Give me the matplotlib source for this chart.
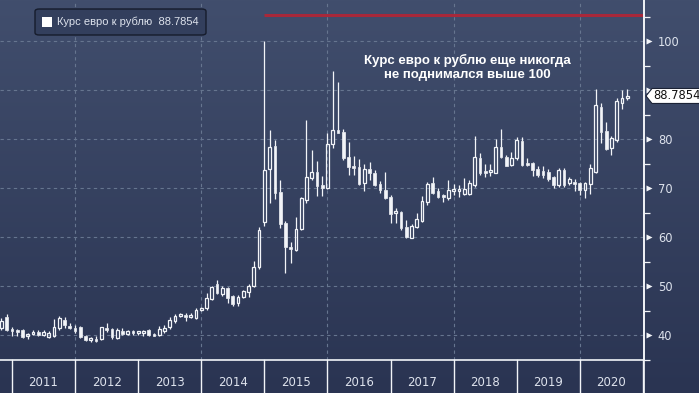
#!/usr/bin/env python3

import matplotlib
matplotlib.use('Agg')
import matplotlib.pyplot as plt
import matplotlib.transforms as mtransforms
from matplotlib.colors import LinearSegmentedColormap
from matplotlib.patches import Rectangle, FancyBboxPatch, Polygon
import numpy

# monthly EUR/RUB candles, Oct 2010 .. Sep 2020
FIRST_MONTH = 10
OPENS = [41.4, 43.6, 41.2, 41.0, 41.0, 39.8, 40.3, 40.7, 40.1, 39.5,
         39.7, 41.4, 43.1, 41.9, 41.5, 41.7, 39.9, 39.0, 39.2, 39.2,
         41.5, 41.2, 39.3, 40.8, 40.3, 40.8, 40.4, 40.4, 41.1, 40.0,
         40.0, 40.9, 41.7, 42.9, 43.9, 44.1, 43.7, 43.5, 45.2, 45.5,
         47.3, 50.4, 48.4, 49.5, 47.9, 46.5, 47.7, 48.7, 50.0, 53.9,
         63.0, 73.8, 78.5, 69.1, 62.8, 57.9, 57.3, 61.6, 67.5, 72.0,
         73.2, 70.6, 70.1, 78.9, 81.8, 81.4, 76.4, 74.5, 74.3, 71.0,
         73.8, 73.1, 70.9, 69.6, 68.1, 65.0, 65.2, 62.0, 59.9, 62.1,
         63.3, 67.2, 71.1, 69.3, 68.4, 67.9, 69.3, 69.3, 68.8, 68.8,
         70.6, 76.1, 73.5, 73.2, 73.1, 78.4, 76.4, 74.6, 76.2, 79.5,
         75.2, 75.2, 73.8, 73.5, 73.3, 72.2, 70.6, 73.7, 71.0, 71.3,
         71.1, 69.5, 70.9, 73.3, 86.6, 81.6, 78.1, 79.8, 87.3, 88.4]
HIGHS = [43.5, 44.3, 41.7, 41.3, 41.2, 40.5, 41.0, 41.0, 41.0, 40.8,
         43.2, 43.9, 43.7, 42.4, 42.0, 41.9, 40.1, 39.5, 39.7, 41.7,
         42.4, 41.5, 41.4, 41.4, 41.0, 41.1, 40.9, 41.1, 41.2, 40.4,
         41.9, 42.0, 43.7, 44.2, 44.5, 44.4, 44.4, 45.5, 45.7, 48.5,
         50.0, 51.2, 50.0, 49.9, 48.2, 48.2, 49.1, 50.4, 55.2, 62.1,
         100.0, 81.8, 79.9, 71.6, 63.3, 59.0, 64.1, 68.2, 83.8, 77.7,
         75.5, 72.5, 81.3, 93.9, 91.7, 82.0, 79.4, 76.5, 76.0, 75.0,
         75.3, 73.6, 71.4, 73.3, 68.6, 65.9, 65.4, 63.5, 62.6, 64.8,
         68.4, 71.3, 72.3, 70.0, 68.8, 71.6, 70.9, 70.6, 72.0, 71.6,
         80.6, 77.1, 75.0, 74.8, 80.1, 82.0, 76.7, 77.4, 80.5, 80.5,
         76.1, 75.4, 74.4, 74.4, 73.8, 72.5, 74.0, 74.0, 72.3, 71.9,
         71.3, 71.3, 74.8, 90.3, 87.4, 83.5, 80.6, 88.3, 90.0, 90.3]
LOWS = [41.0, 40.8, 39.9, 39.7, 39.3, 39.1, 40.0, 39.7, 39.8, 39.3,
        39.5, 41.0, 41.5, 41.2, 40.5, 39.3, 38.8, 38.6, 38.6, 39.0,
        40.7, 39.1, 39.1, 40.1, 40.0, 40.1, 40.1, 39.7, 39.9, 39.7,
        39.7, 40.4, 41.3, 42.4, 43.7, 42.9, 43.4, 43.2, 45.0, 45.2,
        47.1, 48.4, 48.0, 46.5, 45.9, 45.9, 47.5, 47.7, 49.7, 53.5,
        62.3, 67.0, 67.7, 61.8, 52.7, 54.6, 57.2, 61.4, 67.0, 71.6,
        68.4, 68.4, 69.9, 78.2, 81.2, 75.7, 72.6, 72.6, 70.6, 69.4,
        71.6, 70.4, 68.9, 67.7, 62.8, 62.8, 61.4, 59.8, 59.7, 61.8,
        63.1, 66.5, 68.8, 67.9, 67.2, 67.6, 68.6, 68.1, 68.6, 68.6,
        70.3, 72.7, 72.3, 72.5, 73.0, 76.1, 74.4, 74.4, 75.7, 74.5,
        74.5, 72.5, 72.3, 72.0, 71.4, 70.1, 70.3, 70.3, 70.6, 69.4,
        68.6, 67.9, 68.7, 73.0, 79.2, 77.8, 76.7, 79.4, 86.1, 88.0]
CLOSES = [42.9, 41.0, 40.9, 40.7, 39.5, 40.2, 40.7, 40.0, 40.6, 40.5,
          41.7, 43.4, 42.0, 41.4, 40.8, 39.5, 39.0, 39.2, 38.9, 41.6,
          41.0, 39.5, 41.0, 40.3, 40.9, 40.4, 40.8, 40.9, 40.0, 39.9,
          41.2, 41.5, 43.0, 43.9, 44.3, 43.7, 44.1, 45.2, 45.5, 47.5,
          49.7, 48.5, 49.5, 47.5, 46.4, 47.7, 48.9, 50.0, 53.9, 61.5,
          73.6, 78.3, 68.9, 62.6, 57.9, 57.5, 61.7, 67.9, 72.2, 73.2,
          70.5, 70.1, 78.9, 81.9, 81.2, 76.1, 74.2, 74.1, 70.8, 73.8,
          73.0, 70.6, 69.6, 67.9, 64.7, 65.4, 61.8, 60.0, 62.2, 63.6,
          67.4, 70.9, 69.0, 68.1, 68.2, 69.6, 69.9, 69.9, 69.9, 71.0,
          76.3, 73.0, 73.0, 73.7, 78.4, 76.4, 74.5, 76.2, 79.7, 74.7,
          74.7, 73.7, 72.7, 72.7, 71.8, 70.6, 73.7, 70.6, 71.8, 70.9,
          69.5, 71.1, 74.0, 86.9, 81.5, 77.9, 80.3, 87.8, 88.4, 88.7854]
YEARS = ['2011', '2012', '2013', '2014', '2015',
         '2016', '2017', '2018', '2019', '2020']
YTICKS = [40, 50, 60, 70, 80, 90, 100]
LAST = 88.7854
RED_LEVEL = 105.3
RED_FROM = 50  # Dec 2014 candle
LEGEND = 'Курс евро к рублю  88.7854'
NOTE = 'Курс евро к рублю еще никогда\nне поднимался выше 100'

W, H = 699, 393
AX_R, AX_B = 644, 360
WHITE = '#f2f4f8'
LABEL = '#dde2ec'


def main():
  plt.rcParams['font.family'] = ['DejaVu Sans']
  fig = plt.figure(figsize=(W / 100, H / 100), dpi=100)

  # gradient background
  bg = fig.add_axes([0, 0, 1, 1], zorder=-1)
  cmap = LinearSegmentedColormap.from_list('bg', ['#2a3452', '#414e6d'])
  grad = numpy.linspace(0, 1, 256).reshape(-1, 1)
  bg.imshow(grad, aspect='auto', cmap=cmap, origin='lower',
            extent=[0, 1, 0, 1])
  bg.axis('off')

  ax = fig.add_axes([0, (H - AX_B) / H, AX_R / W, AX_B / H])
  ax.set_facecolor('none')
  n = len(OPENS)
  xs = numpy.arange(n)
  ax.set_xlim(-0.28, 122.2)
  ax.set_ylim(34.9, 108.37)

  # grid
  first_year = 12 - FIRST_MONTH
  bounds = [first_year + 12 * k for k in range(len(YEARS) + 1)]
  for yv in YTICKS:
    ax.axhline(yv, color='#66758f', lw=0.8, ls=(0, (3, 3)), zorder=1)
  for b in bounds[1::2]:
    ax.axvline(b, color='#66758f', lw=0.8, ls=(0, (3, 3)), zorder=1)

  # candles
  bw = 0.52
  for i in xs:
    o, h, l, c = OPENS[i], HIGHS[i], LOWS[i], CLOSES[i]
    top, bot = max(o, c), min(o, c)
    if top - bot < 0.35:
      top, bot = (top + bot) / 2 + 0.2, (top + bot) / 2 - 0.2
    ax.vlines(i, top, h, color=WHITE, lw=0.9, zorder=3)
    ax.vlines(i, l, bot, color=WHITE, lw=0.9, zorder=3)
    if c >= o:
      ax.add_patch(Rectangle((i - bw / 2, bot), bw, top - bot,
                             facecolor='none', edgecolor=WHITE, lw=0.9,
                             zorder=3))
    else:
      ax.add_patch(Rectangle((i - bw / 2, bot), bw, top - bot,
                             facecolor=WHITE, edgecolor=WHITE, lw=0.5,
                             zorder=3))

  # red level line
  ax.plot([RED_FROM, 122.2], [RED_LEVEL, RED_LEVEL], color='#a8283a',
          lw=2.2, solid_capstyle='butt', zorder=2)

  # axes frame
  for s in ['top', 'left']:
    ax.spines[s].set_visible(False)
  ax.spines['bottom'].set_color(WHITE)
  ax.spines['bottom'].set_linewidth(1.2)
  ax.spines['right'].set_color(WHITE)
  ax.spines['right'].set_linewidth(1.2)
  ax.set_xticks([])
  ax.yaxis.tick_right()
  ax.set_yticks(YTICKS)
  # the 90 label sits under the last-value marker in the original
  ax.set_yticklabels(['' if v == 90 else str(v) for v in YTICKS])
  ax.set_yticks([v + 5 for v in YTICKS[:-1]] + [35, 105], minor=True)
  ax.tick_params(axis='y', which='major', length=0, pad=10,
                 labelcolor=LABEL, labelsize=8.3)
  ax.tick_params(axis='y', which='minor', length=4, width=0.9,
                 color=WHITE, direction='out')

  trans = mtransforms.blended_transform_factory(ax.transAxes, ax.transData)
  ax.plot([1 + 5 / AX_R] * len(YTICKS), YTICKS, marker='>', ls='none',
          ms=4.5, color=WHITE, mec='none', transform=trans, clip_on=False)

  # year strip
  tx = mtransforms.blended_transform_factory(ax.transData, ax.transAxes)
  for b in bounds:
    ax.plot([b, b], [0, -(H - AX_B) / AX_B], color=WHITE, lw=1.0,
            transform=tx, clip_on=False)
  for k, yr in enumerate(YEARS):
    ax.text(bounds[k] + 6, -23 / AX_B, yr, transform=tx, ha='center',
            va='center', fontsize=8.5, color=LABEL)
  ax.plot([1, 1], [1, -(H - AX_B) / AX_B], color=WHITE, lw=1.2,
          transform=ax.transAxes, clip_on=False)

  # last value marker
  dy = 7.5 / AX_B * (108.37 - 34.9)
  pts = [(646 / AX_R, LAST), (652 / AX_R, LAST + dy),
         (710 / AX_R, LAST + dy), (710 / AX_R, LAST - dy),
         (652 / AX_R, LAST - dy)]
  ax.add_patch(Polygon(pts, closed=True, facecolor='white',
                       edgecolor='#1c2336', lw=0.8, transform=trans,
                       clip_on=False, zorder=10))
  ax.text(653 / AX_R, LAST, '{:.4f}'.format(LAST), transform=trans,
          ha='left', va='center', fontsize=8.3, color='#111111',
          zorder=11, clip_on=False)

  # legend box
  fig.patches.append(FancyBboxPatch(
    (35 / W, 1 - 35 / H), 171 / W, 26 / H,
    boxstyle='round,pad=0,rounding_size=0.006', transform=fig.transFigure,
    facecolor='#333f5d', edgecolor='#161c2c', lw=1.0, zorder=5))
  fig.patches.append(Rectangle((42 / W, 1 - 27 / H), 10 / W, 10 / H,
                               transform=fig.transFigure,
                               facecolor='white', edgecolor='none',
                               zorder=6))
  fig.text(57 / W, 1 - 22 / H, LEGEND, ha='left', va='center',
           fontsize=8, family=['Liberation Sans'], color=LABEL, zorder=6)

  # annotation
  ax.text(467 / AX_R, 1 - 67.5 / AX_B, NOTE, transform=ax.transAxes,
          ha='center', va='center', multialignment='center',
          fontsize=9.5, fontweight='bold', family=['Liberation Sans'],
          color='white', linespacing=1.15, zorder=6)

  fig.savefig('out.png', dpi=100)


if __name__ == '__main__':
  main()
